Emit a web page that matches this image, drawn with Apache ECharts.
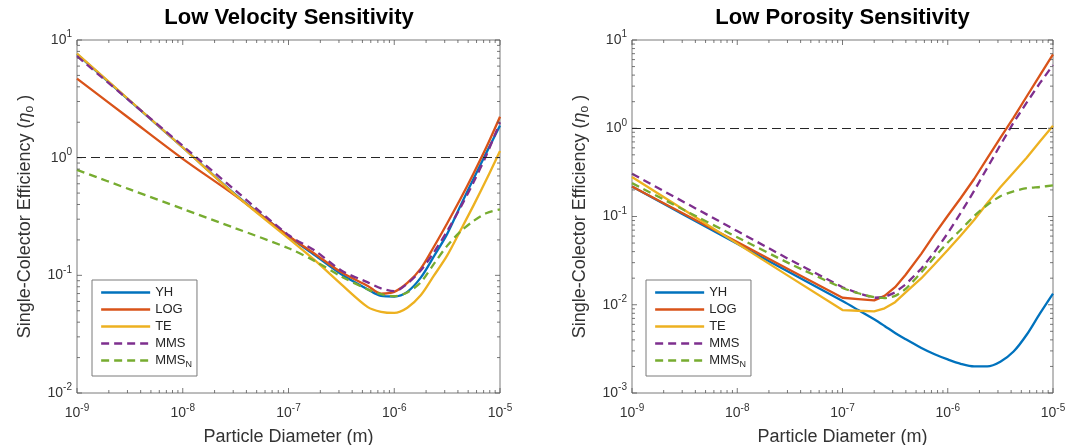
<!DOCTYPE html>
<html>
<head>
<meta charset="utf-8">
<script src="https://cdn.jsdelivr.net/npm/echarts@6.0.0/dist/echarts.min.js"></script>
<style>
html,body{margin:0;padding:0;background:#ffffff;}
#chart{width:1073px;height:445px;}
</style>
</head>
<body>
<div id="chart"></div>
<script>
// ---------------- data ----------------
const seriesNames = ['YH', 'LOG', 'TE', 'MMS', 'MMS_N'];
const panelTitles = ['Low Velocity Sensitivity', 'Low Porosity Sensitivity'];
const xAxisTitle = 'Particle Diameter (m)';

// Left panel: Low Velocity Sensitivity
const diamLV = [1e-9, 3.16e-9, 1e-8, 3.16e-8, 1e-7, 1.78e-7, 3.16e-7, 5.62e-7, 7.5e-7, 1e-6, 1.33e-6, 1.78e-6, 2.37e-6, 3.16e-6, 4.22e-6, 5.62e-6, 7.5e-6, 1e-5];
const yhLV   = [7.59, 3.04, 1.22, 0.484, 0.215, 0.148, 0.102, 0.0759, 0.0668, 0.0661, 0.0724, 0.0955, 0.145, 0.224, 0.389, 0.661, 1.12, 1.88];
const logLV  = [4.70, 2.14, 0.977, 0.473, 0.216, 0.152, 0.106, 0.0813, 0.0700, 0.0724, 0.0861, 0.114, 0.175, 0.276, 0.445, 0.735, 1.25, 2.23];
const teLV   = [7.67, 3.06, 1.22, 0.480, 0.206, 0.134, 0.0838, 0.0537, 0.0490, 0.0479, 0.0531, 0.0676, 0.0993, 0.147, 0.240, 0.393, 0.661, 1.14];
const mmsLV  = [7.28, 3.03, 1.26, 0.525, 0.220, 0.162, 0.110, 0.0871, 0.0776, 0.0733, 0.0851, 0.110, 0.157, 0.237, 0.376, 0.617, 1.07, 2.00];
const mmsnLV = [0.787, 0.537, 0.367, 0.251, 0.170, 0.132, 0.0977, 0.0759, 0.0692, 0.0664, 0.0716, 0.0871, 0.125, 0.178, 0.235, 0.290, 0.339, 0.363];

// Right panel: Low Porosity Sensitivity
const diamLP = [1e-9, 3.16e-9, 1e-8, 3.16e-8, 1e-7, 1.41e-7, 2e-7, 2.51e-7, 3.16e-7, 3.98e-7, 5.62e-7, 7.5e-7, 1e-6, 1.33e-6, 1.78e-6, 2.37e-6, 3.16e-6, 4.22e-6, 5.62e-6, 7.5e-6, 1e-5];
const yhLP   = [0.219, 0.1035, 0.0490, 0.0232, 0.0110, 0.00871, 0.00684, 0.00575, 0.00479, 0.00407, 0.00324, 0.00275, 0.00240, 0.00214, 0.00200, 0.00200, 0.00226, 0.00295, 0.00457, 0.00794, 0.0134];
const logLP  = [0.219, 0.106, 0.0513, 0.0248, 0.0120, 0.0116, 0.0112, 0.0126, 0.0158, 0.0219, 0.0380, 0.0631, 0.102, 0.162, 0.266, 0.457, 0.776, 1.32, 2.29, 3.98, 6.87];
const teLP   = [0.280, 0.1175, 0.0493, 0.0207, 0.00871, 0.00855, 0.00841, 0.00912, 0.0107, 0.0138, 0.0200, 0.0288, 0.0417, 0.0610, 0.0912, 0.141, 0.214, 0.316, 0.462, 0.708, 1.07];
const mmsLP  = [0.305, 0.1445, 0.0684, 0.0324, 0.0158, 0.0135, 0.0120, 0.0122, 0.0138, 0.0170, 0.0257, 0.0398, 0.0646, 0.110, 0.195, 0.355, 0.646, 1.16, 1.95, 3.24, 5.19];
const mmsnLP = [0.239, 0.1175, 0.0582, 0.0292, 0.0155, 0.0135, 0.0122, 0.0119, 0.0126, 0.0151, 0.0234, 0.0347, 0.0507, 0.0708, 0.101, 0.135, 0.170, 0.193, 0.210, 0.216, 0.225];

// ticks
const xMajorTicks   = [1e-9, 1e-8, 1e-7, 1e-6, 1e-5];
const yMajorTicksLV = [1e-2, 1e-1, 1e0, 1e1];
const yMajorTicksLP = [1e-3, 1e-2, 1e-1, 1e0, 1e1];
const refLevel = 1;

// ---------------- style ----------------
const FONT = '"Liberation Sans", Arial, Helvetica, sans-serif';
const LAB = '#333333';
const FRAME = '#7a7a7a';
const LW = 2.3;
const colors = {YH: '#0072BD', LOG: '#D95319', TE: '#EDB120', MMS: '#7E2F8E', MMS_N: '#77AC30'};
const dashedSet = {MMS: true, MMS_N: true};

const grids = [
  {left: 77, right: 573, top: 40, bottom: 52, show: true, borderColor: FRAME, borderWidth: 1, backgroundColor: '#fff', outerBoundsMode: 'none'},
  {left: 632, right: 20, top: 40, bottom: 52, show: true, borderColor: FRAME, borderWidth: 1, backgroundColor: '#fff', outerBoundsMode: 'none'}
];

function pow10Label(v) {
  const e = Math.round(Math.log10(v));
  return '{b|10}{s|' + e + '}';
}
const labelRich = {
  b: {fontSize: 14, color: LAB, fontFamily: FONT},
  s: {fontSize: 10, color: LAB, fontFamily: FONT, padding: [0, 0, 11, 0]}
};

function makeXAxis(i) {
  return {
    type: 'log', logBase: 10, gridIndex: i, min: 1e-9, max: 1e-5, splitNumber: 4,
    splitLine: {show: false}, axisLine: {show: false}, axisTick: {show: false},
    axisLabel: {formatter: pow10Label, rich: labelRich, margin: 10, showMinLabel: true, showMaxLabel: true},
    name: xAxisTitle, nameLocation: 'middle', nameGap: 35,
    nameTextStyle: {fontSize: 18, color: LAB, fontFamily: FONT}
  };
}
function makeYAxis(i, min, max, split) {
  return {
    type: 'log', logBase: 10, gridIndex: i, min: min, max: max, splitNumber: split,
    splitLine: {show: false}, axisLine: {show: false}, axisTick: {show: false},
    axisLabel: {formatter: pow10Label, rich: labelRich, margin: 5, showMinLabel: true, showMaxLabel: true},
    name: 'Single-Colector Efficiency ({e|η}{o|o} )', nameLocation: 'middle', nameGap: 41,
    nameTextStyle: {fontSize: 18, color: LAB, fontFamily: FONT,
      rich: {e: {fontSize: 18, fontStyle: 'italic', color: LAB, fontFamily: FONT},
             o: {fontSize: 12, color: LAB, fontFamily: FONT, padding: [10, 0, 0, 0]}}}
  };
}

function zip(xs, ys) { return xs.map((x, i) => [x, ys[i]]); }

function panelSeries(idx, diam, vals, smooth) {
  return seriesNames.map((name, k) => {
    const s = {
      type: 'line', name: name, xAxisIndex: idx, yAxisIndex: idx,
      data: zip(diam, vals[k]), symbol: 'none', showSymbol: false, smooth: smooth[k],
      lineStyle: {color: colors[name], width: LW, type: dashedSet[name] ? [8, 5] : 'solid'},
      itemStyle: {color: colors[name]}, z: 2, animation: false
    };
    if (k === 0) {
      s.markLine = {silent: true, symbol: 'none', label: {show: false}, animation: false,
        lineStyle: {color: '#262626', width: 1, type: [9, 5]}, data: [{yAxis: refLevel}]};
    }
    return s;
  });
}

function minorTicks(majors) {
  const out = [];
  for (let i = 0; i < majors.length - 1; i++) {
    for (let k = 2; k <= 9; k++) out.push(k * majors[i]);
  }
  return out;
}

function tickSeries(idx, majors, anchor, isX) {
  const data = majors.map(v => isX ? [v, anchor, 5] : [anchor, v, 5])
    .concat(minorTicks(majors).map(v => isX ? [v, anchor, 3] : [anchor, v, 3]));
  return {
    type: 'custom', xAxisIndex: idx, yAxisIndex: idx, silent: true, z: 3, clip: false,
    data: data, animation: false,
    renderItem: function (params, api) {
      const cs = params.coordSys;
      const p = api.coord([api.value(0), api.value(1)]);
      const L = api.value(2);
      const st = {stroke: '#555555', lineWidth: 0.8};
      if (isX) {
        const x = p[0];
        return {type: 'group', children: [
          {type: 'line', shape: {x1: x, y1: cs.y + cs.height, x2: x, y2: cs.y + cs.height - L}, style: st},
          {type: 'line', shape: {x1: x, y1: cs.y, x2: x, y2: cs.y + L}, style: st}
        ]};
      } else {
        const y = p[1];
        return {type: 'group', children: [
          {type: 'line', shape: {x1: cs.x, y1: y, x2: cs.x + L, y2: y}, style: st},
          {type: 'line', shape: {x1: cs.x + cs.width, y1: y, x2: cs.x + cs.width - L, y2: y}, style: st}
        ]};
      }
    }
  };
}

function makeLegend(left) {
  return {
    left: left, top: 280, orient: 'vertical', data: seriesNames, selectedMode: false,
    itemWidth: 49, itemHeight: 12, itemGap: 4, padding: [6, 5, 7, 8],
    borderColor: FRAME, borderWidth: 1, backgroundColor: '#ffffff', borderRadius: 0, z: 10,
    itemStyle: {color: 'rgba(0,0,0,0)', borderColor: 'rgba(0,0,0,0)', borderWidth: 0, opacity: 0},
    lineStyle: {width: LW},
    textStyle: {fontSize: 13, color: '#262626', fontFamily: FONT,
      rich: {sub: {fontSize: 9, color: '#262626', fontFamily: FONT, padding: [8, 0, 0, 0]}}},
    formatter: n => n === 'MMS_N' ? 'MMS{sub|N}' : n
  };
}

const option = {
  animation: false,
  backgroundColor: '#ffffff',
  title: [
    {text: panelTitles[0], left: 289, top: 7, textAlign: 'center', padding: 0,
     textStyle: {fontSize: 22, fontWeight: 'bold', color: '#000', fontFamily: FONT}},
    {text: panelTitles[1], left: 842.5, top: 7, textAlign: 'center', padding: 0,
     textStyle: {fontSize: 22, fontWeight: 'bold', color: '#000', fontFamily: FONT}}
  ],
  legend: [makeLegend(92), makeLegend(646)],
  grid: grids,
  xAxis: [makeXAxis(0), makeXAxis(1)],
  yAxis: [makeYAxis(0, 1e-2, 1e1, 3), makeYAxis(1, 1e-3, 1e1, 4)],
  series: []
    .concat(panelSeries(0, diamLV, [yhLV, logLV, teLV, mmsLV, mmsnLV], [0.3, 0.3, 0.3, 0.3, 0.3]))
    .concat(panelSeries(1, diamLP, [yhLP, logLP, teLP, mmsLP, mmsnLP], [0.3, 0, 0, 0, 0.2]))
    .concat([
      tickSeries(0, xMajorTicks, 1e-2, true), tickSeries(0, yMajorTicksLV, 1e-9, false),
      tickSeries(1, xMajorTicks, 1e-3, true), tickSeries(1, yMajorTicksLP, 1e-9, false)
    ])
};

const chart = echarts.init(document.getElementById('chart'), null, {renderer: 'canvas'});
chart.setOption(option);
</script>
</body>
</html>
